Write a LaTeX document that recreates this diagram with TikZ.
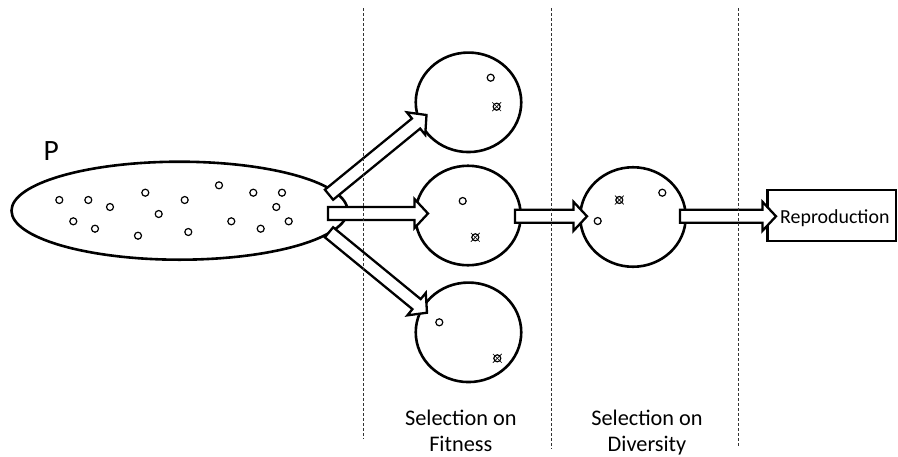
\documentclass[tikz,border=0pt]{standalone}
\usepackage{fontspec}
\setmainfont{Carlito}
\usetikzlibrary{shapes.geometric,calc}
\tikzset{
  popu/.style={ellipse, draw, line width=2.6pt, inner sep=0pt, minimum width=336pt, minimum height=98pt},
  sel/.style={ellipse, draw, line width=2.6pt, inner sep=0pt, minimum width=105.5pt, minimum height=99.5pt},
  dot/.style={circle, draw, line width=1.2pt, inner sep=0pt, minimum size=7pt},
  xline/.style={line width=0.7pt},
  blockarr/.style={draw, fill=white, line width=2.3pt, line join=miter},
  divider/.style={line width=0.9pt, black!80, dash pattern=on 3pt off 2pt},
  lbl/.style={inner sep=0pt, anchor=base, font=\fontsize{22.3}{26.7}\selectfont},
  repbox/.style={draw, line width=2.3pt, inner sep=0pt, minimum width=128.5pt, minimum height=50.5pt}
}
\newcommand\crossdot[2]{%
  \node[dot] (#1) at (#2) {};
  \draw[xline] ($(#1)+(-4.4,-4.4)$) -- ($(#1)+(4.4,4.4)$);
  \draw[xline] ($(#1)+(-4.4,4.4)$) -- ($(#1)+(4.4,-4.4)$);
}
\def\shafthalf{6.5pt}
\def\barbhalf{14.5pt}
\def\headlen{13.5pt}
\newcommand\blockarrow[2]{%
  \coordinate (#1-#2-h) at ($(#2)!\headlen!(#1)$);
  \draw[blockarr] ($(#1)!\shafthalf!90:(#2)$) -- ($(#1-#2-h)!\shafthalf!90:(#2)$)
    -- ($(#1-#2-h)!\barbhalf!90:(#2)$) -- (#2) -- ($(#1-#2-h)!\barbhalf!-90:(#2)$)
    -- ($(#1-#2-h)!\shafthalf!-90:(#2)$) -- ($(#1)!\shafthalf!-90:(#2)$) -- cycle;
}
\begin{document}
\begin{tikzpicture}[x=1pt,y=-1pt]
\useasboundingbox (0,0) rectangle (898,456);

% population
\node[popu] (pop) at (179.5,210.7) {};
\node[inner sep=0pt, anchor=base west, font=\fontsize{29.5}{35}\selectfont] (plabel) at (43.5,160.7) {P};
\node[dot] (d1) at (59.3,200) {};
\node[dot] (d2) at (88.3,200) {};
\node[dot] (d3) at (110,207) {};
\node[dot] (d4) at (73.3,221.3) {};
\node[dot] (d5) at (95,228.7) {};
\node[dot] (d6) at (145.3,192.7) {};
\node[dot] (d7) at (158.7,214) {};
\node[dot] (d8) at (138,235.7) {};
\node[dot] (d9) at (184.7,200) {};
\node[dot] (d10) at (188.3,232) {};
\node[dot] (d11) at (219,185.3) {};
\node[dot] (d12) at (231.3,221.3) {};
\node[dot] (d13) at (253.3,192.7) {};
\node[dot] (d14) at (282,192.7) {};
\node[dot] (d15) at (276.3,207) {};
\node[dot] (d16) at (288.7,221.3) {};
\node[dot] (d17) at (260.7,228.7) {};

% selection circles
\node[sel] (top) at (468.5,102.3) {};
\node[sel] (mid) at (468,215.5) {};
\node[sel] (bot) at (468.5,332.3) {};
\node[sel] (div) at (633,217) {};

\node[dot] (t1) at (490.7,77.7) {};
\crossdot{t2}{496.7,106.7}
\node[dot] (m1) at (462.7,201) {};
\crossdot{m2}{475.3,237.3}
\node[dot] (b1) at (439.3,322.3) {};
\crossdot{b2}{497.3,358.3}
\node[dot] (v1) at (662.3,192.7) {};
\node[dot] (v2) at (597.7,221) {};
\crossdot{v3}{619.3,200}

% reproduction
\node[repbox] (rep) at (831.85,215.5) {};
\node[inner sep=0pt, anchor=base west, font=\fontsize{19.9}{24}\selectfont] (reptext) at (780,223.3) {Reproduction};

% arrows
\coordinate (tailU) at (329,194.7);
\coordinate (tipU) at (426.5,115);
\coordinate (tailM) at (328,213.5);
\coordinate (tipM) at (428,213.5);
\coordinate (tailL) at (329,232.3);
\coordinate (tipL) at (427,312.7);
\coordinate (tailD) at (515,216.3);
\coordinate (tipD) at (587,216.3);
\coordinate (tailR) at (680,216.3);
\coordinate (tipR) at (776,216.3);
\blockarrow{tailU}{tipU}
\blockarrow{tailM}{tipM}
\blockarrow{tailL}{tipL}
\blockarrow{tailD}{tipD}
\blockarrow{tailR}{tipR}

% dividers
\coordinate (s1a) at (363.5,8);
\coordinate (s1b) at (363.5,439);
\coordinate (s2a) at (551,8);
\coordinate (s2b) at (551,449);
\coordinate (s3a) at (738.5,8);
\coordinate (s3b) at (738.5,447);
\draw[divider] (s1a) -- (s1b);
\draw[divider] (s2a) -- (s2b);
\draw[divider] (s3a) -- (s3b);

% labels
\node[lbl] (fitA) at (460.8,425) {Selection on};
\node[lbl] (fitB) at (460.8,451.7) {Fitness};
\node[lbl] (divA) at (647,425) {Selection on};
\node[lbl] (divB) at (647,451.7) {Diversity};
\end{tikzpicture}
\end{document}
